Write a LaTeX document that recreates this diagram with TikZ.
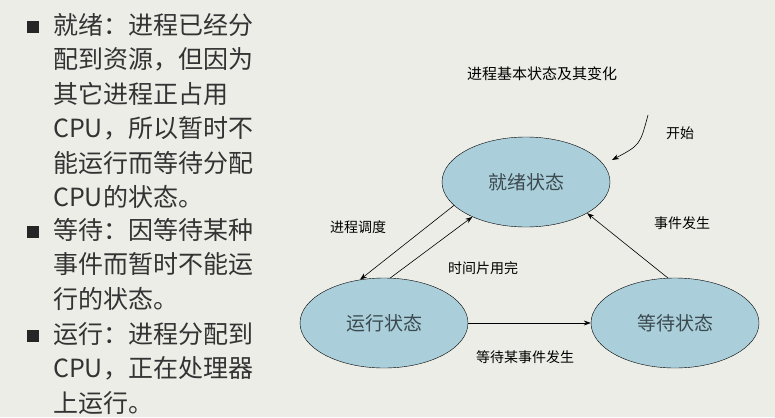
\documentclass[tikz,border=0pt]{standalone}
\usepackage{fontspec}
\setmainfont{Liberation Serif}
\newfontfamily\cjk{Noto Sans CJK SC}
\usetikzlibrary{shapes.geometric,arrows.meta}
\definecolor{bggray}{HTML}{EDEDE8}
\definecolor{statefill}{HTML}{AACFDA}
\definecolor{statetext}{HTML}{3C4A50}
\definecolor{bodytext}{HTML}{333333}
\begin{document}
\begin{tikzpicture}[
    x=1pt, y=-1pt,
    state/.style={draw, ellipse, fill=statefill, minimum width=168pt, minimum height=90pt, font=\cjk\fontsize{19}{22}\selectfont, text=statetext},
    trans/.style={draw, -{Stealth[length=7pt,width=5pt]}, line width=0.6pt},
    lbl/.style={font=\cjk\fontsize{14}{16}\selectfont, inner sep=0pt},
    bullettext/.style={anchor=north west, inner sep=0pt, align=left, text=bodytext, font=\cjk\fontsize{25}{34.5}\selectfont},
    bulletbox/.style={fill=black!85, minimum size=12pt, inner sep=0pt},
]
    \fill[bggray] (0,0) rectangle (775,417);
    \useasboundingbox (0,0) rectangle (775,417);
    % left column
    \node[bulletbox] (b1) at (33,27) {};
    \node[bullettext] (t1) at (53,13) {就绪：进程已经分\\配到资源，但因为\\其它进程正占用\\CPU，所以暂时不\\能运行而等待分配\\CPU的状态。};
    \node[bulletbox] (b2) at (33,232) {};
    \node[bullettext] (t2) at (53,218) {等待：因等待某种\\事件而暂时不能运\\行的状态。};
    \node[bulletbox] (b3) at (33,336) {};
    \node[bullettext] (t3) at (53,322) {运行：进程分配到\\CPU，正在处理器\\上运行。};
    % diagram
    \node[lbl, font=\cjk\fontsize{15}{17}\selectfont] (title) at (542,74) {进程基本状态及其变化};
    \node[state] (ready) at (526,182) {就绪状态};
    \node[state] (running) at (384,323) {运行状态};
    \node[state] (waiting) at (675,323) {等待状态};
    \coordinate (startpt) at (648,115);
    \node[lbl] (start) at (680,133) {开始};
    \draw[trans] (startpt) .. controls (640,145) .. (612,160);
    \draw[trans] (ready.198) -- (running.119);
    \draw[trans] (running.82) -- (ready.213);
    \draw[trans] (waiting.99) -- (ready.-27);
    \draw[trans] (running) -- (waiting);
    \node[lbl] (sched) at (358,227) {进程调度};
    \node[lbl] (slice) at (483,268) {时间片用完};
    \node[lbl] (event) at (682,223) {事件发生};
    \node[lbl] (wait) at (525,357) {等待某事件发生};
\end{tikzpicture}
\end{document}
